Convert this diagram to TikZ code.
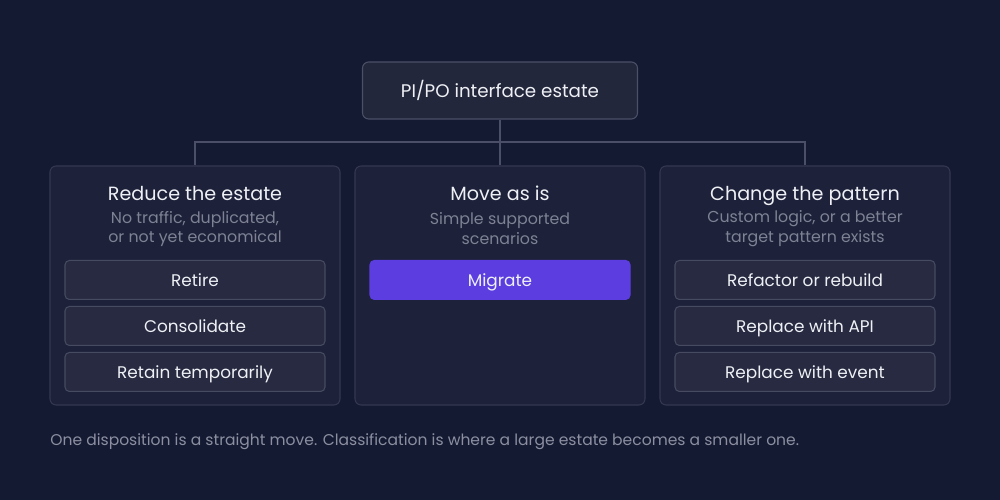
\documentclass[tikz,border=0pt]{standalone}
\usepackage{fontspec}
\setmainfont{Poppins}
\usepackage{tikz}
\usetikzlibrary{positioning,shapes,arrows}
\definecolor{bgc}{HTML}{151A33}
\definecolor{panelfill}{HTML}{1D2139}
\definecolor{panelline}{HTML}{34384F}
\definecolor{itemfill}{HTML}{272A40}
\definecolor{itemline}{HTML}{474B61}
\definecolor{topfill}{HTML}{23273B}
\definecolor{topline}{HTML}{4B5068}
\definecolor{migfill}{HTML}{5B3DE0}
\definecolor{headtext}{HTML}{EEF0F5}
\definecolor{subtext}{HTML}{7E8294}
\definecolor{foottext}{HTML}{8B8FA0}
\tikzstyle{top}=[draw=topline, fill=topfill, rounded corners=3.5pt, minimum height = 1.14cm, minimum width=5.5cm, line width=0.6pt, text=headtext, text height=0.85em, text depth=0.05em, font=\fontsize{10.4}{12}\selectfont]
\tikzstyle{panel}=[draw=panelline, fill=panelfill, rounded corners=3.5pt, minimum height = 4.78cm, minimum width=5.8cm, line width=0.6pt]
\tikzstyle{item}=[draw=itemline, fill=itemfill, rounded corners=2.5pt, minimum height = 0.78cm, minimum width=5.2cm, line width=0.6pt, text=headtext, text height=0.8em, text depth=0.1em, font=\fontsize{9.6}{11}\selectfont]
\tikzstyle{mig}=[item, draw=migfill, fill=migfill]
\tikzstyle{head}=[text=headtext, text height=0.8em, text depth=0.1em, font=\fontsize{10.9}{12}\selectfont]
\tikzstyle{sub}=[text=subtext, align=center, font=\fontsize{9}{11.3}\selectfont]
\tikzstyle{wire}=[draw=topline, line width=0.6pt]
\tikzstyle{foot}=[text=foottext, anchor=west, inner sep=0pt, font=\fontsize{8.85}{10}\selectfont]

\begin{document}
\begin{tikzpicture}[node distance=6.1cm,auto]

\fill[bgc] (0,0) rectangle (20,-10);
\useasboundingbox (0,0) rectangle (20,-10);

\node[top] at (10,-1.81) (estate) {PI/PO interface estate};
\node[panel] at (10,-5.71) (move) {};
\node[panel, left of = move] (reduce) {};
\node[panel, right of = move] (change) {};

\coordinate (bus) at (10,-2.84);
\draw[wire] (estate.south) -- (move.north);
\draw[wire] (reduce.north) |- (bus) -| (change.north);

% panel headings
\node[head, yshift = -0.58cm] at (reduce.north) (reducet) {Reduce the estate};
\node[head, yshift = -0.58cm] at (move.north) (movet) {Move as is};
\node[head, yshift = -0.58cm] at (change.north) (changet) {Change the pattern};
\node[sub, yshift = -1.27cm] at (reduce.north) (reduces) {No traffic, duplicated,\\or not yet economical};
\node[sub, yshift = -1.27cm] at (move.north) (moves) {Simple supported\\scenarios};
\node[sub, yshift = -1.27cm] at (change.north) (changes) {Custom logic, or a better\\target pattern exists};

% dispositions
\node[item, yshift = -2.29cm] at (reduce.north) (retire) {Retire};
\node[item, below of = retire, node distance = 0.92cm] (consol) {Consolidate};
\node[item, below of = consol, node distance = 0.92cm] (retain) {Retain temporarily};
\node[mig, yshift = -2.29cm] at (move.north) (migrate) {Migrate};
\node[item, yshift = -2.29cm] at (change.north) (refactor) {Refactor or rebuild};
\node[item, below of = refactor, node distance = 0.92cm] (api) {Replace with API};
\node[item, below of = api, node distance = 0.92cm] (event) {Replace with event};

\node[foot] at (1.0,-8.84) (note) {One disposition is a straight move. Classification is where a large estate becomes a smaller one.};
\end{tikzpicture}
\end{document}
